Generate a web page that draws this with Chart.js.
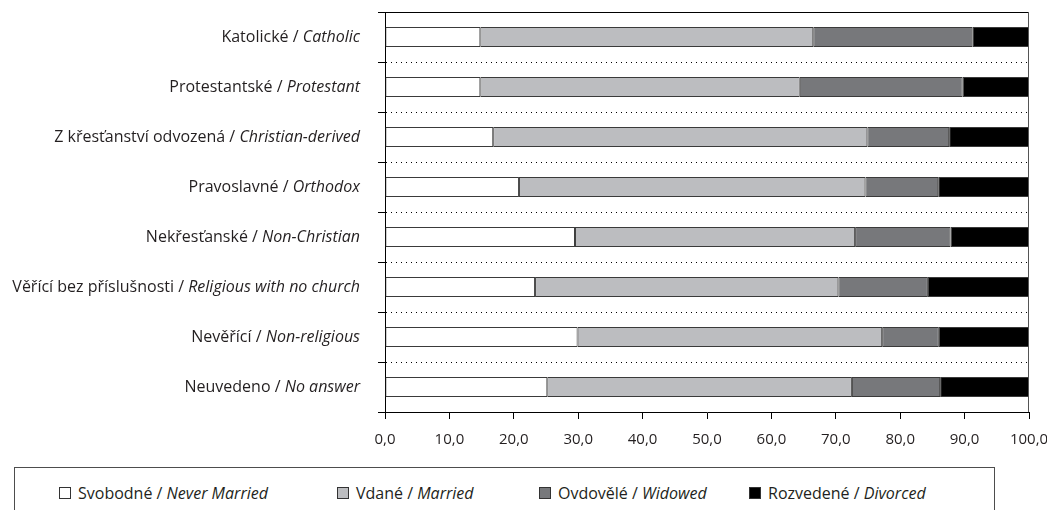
<!DOCTYPE html>
<html>
<head>
<meta charset="utf-8">
<script src="https://cdn.jsdelivr.net/npm/chart.js@4.4.1/dist/chart.umd.min.js"></script>
<style>
  html, body { margin: 0; padding: 0; background: #fff; }
  #wrap { position: relative; width: 1047px; height: 510px; overflow: hidden; font-family: "Open Sans", sans-serif; color: #231f20; }
  #chartBox { position: absolute; left: 0; top: 0; width: 1047px; height: 460px; }
  #legend { position: absolute; left: 14px; top: 467px; width: 981px; height: 60px; border: 1px solid #4d4d4d; box-sizing: border-box; font-size: 16px; }
  #legend .item { position: absolute; top: 14px; display: flex; align-items: center; white-space: nowrap; line-height: 22px; }
  #legend .sw { width: 10px; height: 10px; border: 1px solid #333; margin-right: 7px; }
  #legend i { font-style: italic; }
</style>
</head>
<body>
<div id="wrap">
  <div id="chartBox"><canvas id="chart"></canvas></div>
  <div id="legend"></div>
</div>
<script>
/* ========================================
   DADOS
   ======================================== */

const categoriesCz = ['Katolické', 'Protestantské', 'Z křesťanství odvozená', 'Pravoslavné',
  'Nekřesťanské', 'Věřící bez příslušnosti', 'Nevěřící', 'Neuvedeno'];
const categoriesEn = ['Catholic', 'Protestant', 'Christian-derived', 'Orthodox',
  'Non-Christian', 'Religious with no church', 'Non-religious', 'No answer'];

const seriesCz = ['Svobodné', 'Vdané', 'Ovdovělé', 'Rozvedené'];
const seriesEn = ['Never Married', 'Married', 'Widowed', 'Divorced'];

const neverMarried = [14.8, 14.8, 16.8, 20.8, 29.5, 23.3, 29.9, 25.2];
const married      = [51.7, 49.6, 58.1, 53.8, 43.5, 47.1, 47.3, 47.3];
const widowed      = [24.7, 25.3, 12.7, 11.3, 14.8, 13.9, 8.8, 13.7];
const divorced     = [8.8, 10.3, 12.4, 14.1, 12.2, 15.7, 14.0, 13.8];

const xTickLabels = ['0,0', '10,0', '20,0', '30,0', '40,0', '50,0', '60,0', '70,0', '80,0', '90,0', '100,0'];

// Estilos (separados dos dados)
const seriesColors = ['#ffffff', '#bcbdc0', '#77787b', '#000000'];
const legendLeft = [44, 322, 524, 734];
const FONT = '"Open Sans"';
const FONT_SIZE = 16;

/* ========================================
   PLUGINS
   ======================================== */

// Rótulos do eixo Y: parte checa normal + parte inglesa em itálico
const yLabelPlugin = {
  id: 'yLabels',
  afterDraw(chart) {
    const ctx = chart.ctx;
    const y = chart.scales.y;
    const right = y.right - 25;
    ctx.save();
    ctx.fillStyle = '#231f20';
    ctx.textBaseline = 'middle';
    ctx.textAlign = 'left';
    categoriesCz.forEach((cz, i) => {
      const py = y.getPixelForTick(i);
      ctx.font = 'italic ' + FONT_SIZE + 'px ' + FONT;
      const en = categoriesEn[i];
      const enW = ctx.measureText(en).width;
      ctx.fillText(en, right - enW, py);
      ctx.font = FONT_SIZE + 'px ' + FONT;
      const head = cz + ' / ';
      const headW = ctx.measureText(head).width;
      ctx.fillText(head, right - enW - headW, py);
    });
    ctx.restore();
  }
};

// Moldura: linha superior preta e lateral direita cinza
const framePlugin = {
  id: 'frame',
  afterDatasetsDraw(chart) {
    const { ctx, chartArea: a } = chart;
    ctx.save();
    ctx.lineWidth = 1;
    ctx.strokeStyle = '#000';
    ctx.beginPath();
    ctx.moveTo(a.left, Math.round(a.top) + 0.5);
    ctx.lineTo(a.right, Math.round(a.top) + 0.5);
    ctx.stroke();
    ctx.strokeStyle = '#555';
    ctx.beginPath();
    ctx.moveTo(Math.round(a.right) - 0.5, a.top);
    ctx.lineTo(Math.round(a.right) - 0.5, a.bottom);
    ctx.stroke();
    ctx.restore();
  }
};

/* ========================================
   GRÁFICO
   ======================================== */

function buildChart() {
  const values = [neverMarried, married, widowed, divorced];

  new Chart(document.getElementById('chart'), {
    type: 'bar',
    data: {
      labels: categoriesCz,
      datasets: values.map((v, i) => ({
        label: seriesCz[i] + ' / ' + seriesEn[i],
        data: v,
        backgroundColor: seriesColors[i],
        borderColor: '#3a3a3a',
        borderWidth: 1,
        borderSkipped: false,
        barPercentage: 0.4,
        categoryPercentage: 1.0
      }))
    },
    options: {
      indexAxis: 'y',
      responsive: true,
      maintainAspectRatio: false,
      animation: false,
      layout: { padding: { top: 12, right: 18, left: 0, bottom: 0 } },
      plugins: {
        legend: { display: false },
        tooltip: { enabled: false }
      },
      scales: {
        x: {
          stacked: true,
          min: 0,
          max: 100,
          afterFit: s => { s.height = 48; s.paddingLeft = 0; s.paddingRight = 0; },
          ticks: {
            stepSize: 10,
            padding: 12,
            color: '#231f20',
            font: { family: 'Open Sans', size: 15 },
            maxRotation: 0,
            callback: (v, i) => xTickLabels[i]
          },
          grid: {
            drawOnChartArea: false,
            drawTicks: true,
            tickLength: 7,
            tickColor: '#000'
          },
          border: { color: '#000', width: 1 }
        },
        y: {
          stacked: true,
          afterFit: s => { s.width = 385; s.paddingTop = 0; s.paddingBottom = 0; },
          ticks: { display: false },
          grid: {
            offset: true,
            color: '#000',
            lineWidth: 1,
            tickLength: 7,
            tickColor: '#000',
            tickBorderDash: []
          },
          border: { color: '#000', width: 1, dash: [1, 4] }
        }
      }
    },
    plugins: [yLabelPlugin, framePlugin]
  });
}

/* ========================================
   LEGENDA
   ======================================== */

function buildLegend() {
  const box = document.getElementById('legend');
  seriesCz.forEach((cz, i) => {
    const item = document.createElement('span');
    item.className = 'item';
    item.style.left = legendLeft[i] + 'px';
    item.innerHTML = '<span class="sw" style="background:' + seriesColors[i] + '"></span>' +
      cz + '&nbsp;/&nbsp;<i>' + seriesEn[i] + '</i>';
    box.appendChild(item);
  });
}

buildLegend();
buildChart();
</script>
</body>
</html>
